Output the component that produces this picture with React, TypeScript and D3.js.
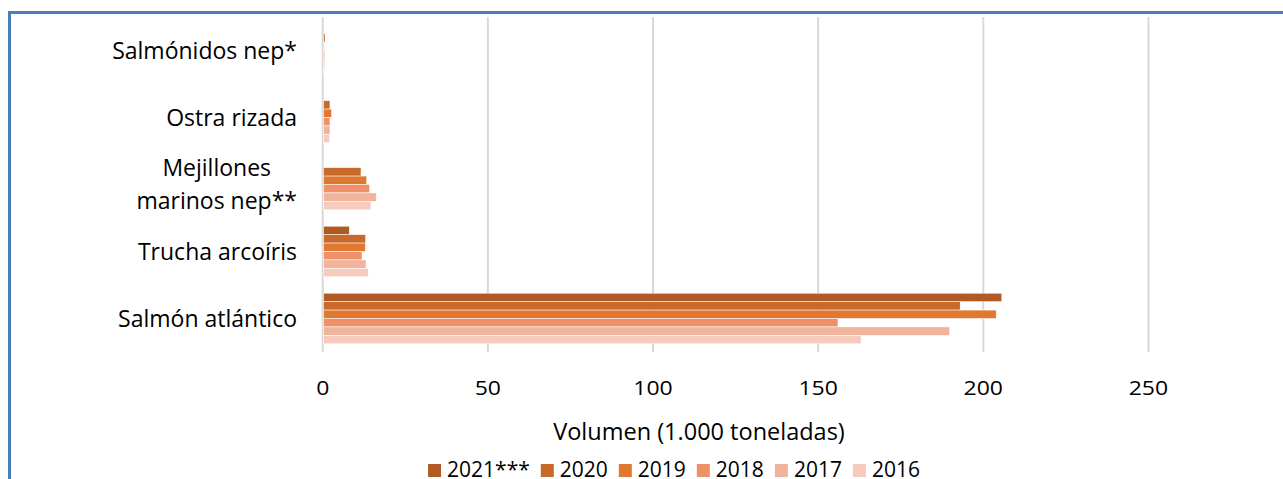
import React, { useEffect, useRef } from "react";
import * as d3 from "d3";

const categories = ["Salmónidos nep*", "Ostra rizada", "Mejillones\nmarinos nep**", "Trucha arcoíris", "Salmón atlántico"];
const years = ["2021***", "2020", "2019", "2018", "2017", "2016"];
// values in 1.000 toneladas, per category (same order as categories), null = no data
const v2021 = [null, null, null, 8.05, 205.6];
const v2020 = [0.7, 2.2, 11.6, 13.0, 193.0];
const v2019 = [null, 2.7, 13.3, 12.9, 203.9];
const v2018 = [0.6, 2.2, 14.2, 11.9, 156.0];
const v2017 = [0.6, 2.2, 16.2, 13.1, 189.8];
const v2016 = [0.4, 2.1, 14.6, 13.8, 163.0];
const seriesValues = [v2021, v2020, v2019, v2018, v2017, v2016];
const colors = ["#B15B24", "#C86A2B", "#E0782F", "#EF9069", "#F2B39D", "#F6CBBE"];
const tickValues = [0, 50, 100, 150, 200, 250];
const axisTitle = "Volumen (1.000 toneladas)";

const W = 1283;
const H = 479;
const FONT = "'Open Sans', 'Liberation Sans', sans-serif";

export default function App() {
  const ref = useRef<SVGSVGElement | null>(null);

  useEffect(() => {
    const svg = d3.select(ref.current);
    svg.selectAll("*").remove();

    const x = d3.scaleLinear().domain([0, 300]).range([322.7, 322.7 + 300 * 3.303]);
    const y = d3.scaleBand<string>().domain(categories).range([17, 352]).paddingInner(0.245).paddingOuter(0.1225);
    const sub = d3.scaleBand<string>().domain(years).range([0, y.bandwidth()]);

    // frame
    svg.append("path")
      .attr("d", `M9.5,${H + 5} L9.5,12.5 L${W + 5},12.5`)
      .attr("fill", "none")
      .attr("stroke", "#4A7EBB")
      .attr("stroke-width", 3);

    // gridlines
    svg.append("g").selectAll("line").data(tickValues).join("line")
      .attr("x1", (d) => x(d)).attr("x2", (d) => x(d))
      .attr("y1", 17).attr("y2", 352)
      .attr("stroke", "#D9D9D9").attr("stroke-width", 2);

    // bars
    const gBars = svg.append("g");
    seriesValues.forEach((vals, si) => {
      gBars.append("g").selectAll("rect")
        .data(vals.map((v, ci) => ({ v, c: categories[ci] })).filter((d) => d.v != null))
        .join("rect")
        .attr("x", x(0) + 0.8)
        .attr("y", (d) => (y(d.c) as number) + (sub(years[si]) as number))
        .attr("width", (d) => Math.max(0, x(d.v as number) - x(0) - 0.8))
        .attr("height", sub.bandwidth())
        .attr("fill", colors[si])
        .attr("stroke", "#ffffff")
        .attr("stroke-width", 0.5);
    });

    // tick labels
    svg.append("g").selectAll("text").data(tickValues).join("text")
      .attr("transform", (d) => `translate(${x(d)},395) scale(1.15,1)`)
      .attr("text-anchor", "middle")
      .attr("font-family", FONT)
      .attr("font-size", 20)
      .attr("fill", "#000")
      .text((d) => String(d));

    // axis title
    svg.append("text")
      .attr("x", 699).attr("y", 440)
      .attr("text-anchor", "middle")
      .attr("font-family", FONT)
      .attr("font-size", 23.5)
      .attr("fill", "#000")
      .text(axisTitle);

    // category labels
    const gCat = svg.append("g");
    categories.forEach((c) => {
      const lines = c.split("\n");
      const cy = (y(c) as number) + y.bandwidth() / 2;
      const lh = 32.6;
      const g = gCat.append("g");
      const texts = lines.map((ln, i) =>
        g.append("text")
          .attr("y", cy + 8.2 + (i - (lines.length - 1) / 2) * lh)
          .attr("font-family", FONT)
          .attr("font-size", 23)
          .attr("fill", "#000")
          .attr("text-anchor", "middle")
          .text(ln)
      );
      const widths = texts.map((t) => (t.node() as SVGTextElement).getComputedTextLength());
      const maxW = Math.max(...widths);
      const cx = 297 - maxW / 2;
      texts.forEach((t) => t.attr("x", cx));
    });

    // legend
    const gLeg = svg.append("g");
    const items = years.map((yr, i) => {
      const g = gLeg.append("g");
      g.append("rect").attr("x", 0).attr("y", 464).attr("width", 13).attr("height", 13).attr("fill", colors[i]);
      const t = g.append("text")
        .attr("x", 19).attr("y", 477.3)
        .attr("font-family", FONT)
        .attr("font-size", 21)
        .attr("fill", "#000")
        .text(yr);
      const w = (t.node() as SVGTextElement).getComputedTextLength();
      return { g, w: 19 + w };
    });
    const gap = 11;
    const total = items.reduce((s, it) => s + it.w, 0) + gap * (items.length - 1);
    let cur = 674 - total / 2;
    items.forEach((it) => {
      it.g.attr("transform", `translate(${cur},0)`);
      cur += it.w + gap;
    });
  }, []);

  return (
    <svg
      ref={ref}
      width={W}
      height={H}
      style={{ position: "absolute", left: 0, top: 0, display: "block", background: "#fff" }}
    />
  );
}
